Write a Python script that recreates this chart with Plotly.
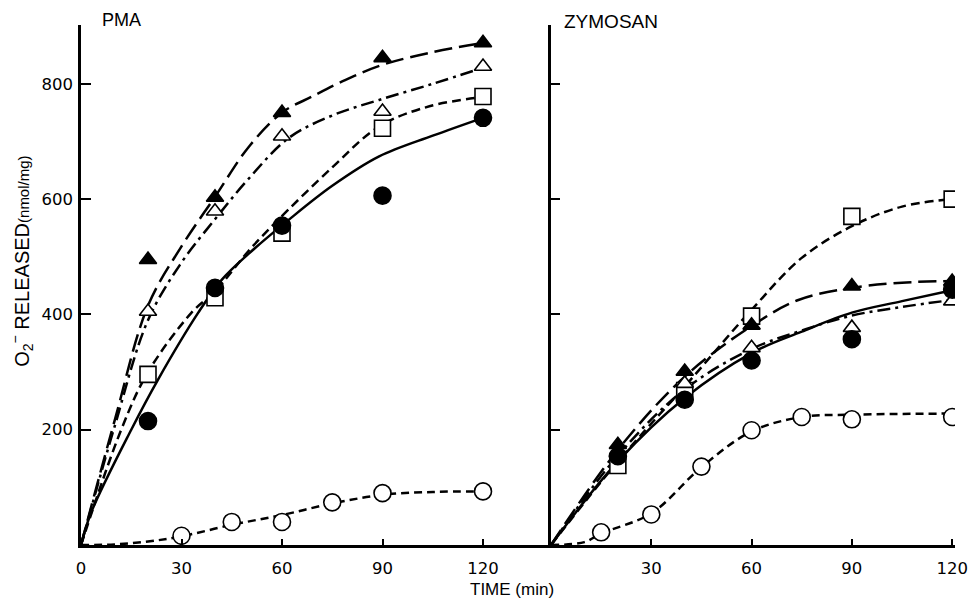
import plotly.graph_objects as go

# ---------------- data ----------------
pma_time = [20, 40, 60, 90, 120]
pma_tri_filled = [495, 603, 750, 845, 871]
pma_tri_open = [405, 579, 709, 752, 830]
pma_sq_open = [296, 429, 541, 723, 778]
pma_circ_filled = [215, 446, 554, 606, 741]
pma_oc_time = [30, 45, 60, 75, 90, 120]
pma_circ_open = [16, 40, 40, 74, 90, 93]

# fitted curves (PMA)
pma_fit_tf_t = [0, 10, 20, 30, 40, 50, 60, 69, 79, 90, 105, 120]
pma_fit_tf_y = [0, 215, 415, 518, 604, 690, 750, 778, 807, 833, 855, 871]
pma_fit_to_t = [0, 10, 20, 30, 40, 50, 62, 75, 89, 105, 120]
pma_fit_to_y = [0, 205, 390, 490, 565, 635, 706, 745, 772, 800, 828]
pma_fit_sq_t = [0, 12, 20, 33, 40, 50, 58, 75, 89, 104, 120]
pma_fit_sq_y = [0, 200, 300, 403, 440, 510, 559, 655, 726, 761, 777]
pma_fit_cf_t = [0, 3, 15, 23, 35, 42, 50, 62, 75, 89, 105, 120]
pma_fit_cf_y = [0, 56, 200, 287, 403, 460, 505, 564, 623, 674, 710, 741]
pma_fit_co_t = [0, 10, 20, 30, 45, 60, 75, 90, 105, 120]
pma_fit_co_y = [0, 1, 6, 15, 35, 52, 72, 87, 92, 93]

zym_time = [20, 40, 60, 90, 120]
zym_sq_open = [138, 268, 397, 570, 600]
zym_tri_filled = [174, 301, 381, 449, 457]
zym_tri_open = [160, 280, 342, 377, 423]
zym_circ_filled = [154, 252, 320, 357, 443]
zym_oc_time = [15, 30, 45, 60, 75, 90, 120]
zym_circ_open = [22, 53, 136, 199, 222, 218, 222]

# fitted curves (ZYMOSAN)
zym_fit_sq_t = [0, 20, 40, 60, 75, 90, 105, 120]
zym_fit_sq_y = [0, 145, 275, 408, 498, 553, 587, 600]
zym_fit_tf_t = [0, 20, 40, 60, 74, 90, 105, 120]
zym_fit_tf_y = [0, 165, 292, 380, 425, 446, 455, 458]
zym_fit_to_t = [0, 20, 40, 60, 75, 90, 105, 120]
zym_fit_to_y = [0, 155, 270, 340, 372, 398, 413, 425]
zym_fit_cf_t = [0, 20, 40, 60, 75, 90, 105, 120]
zym_fit_cf_y = [0, 145, 255, 333, 370, 403, 423, 442]
zym_fit_co_t = [0, 10, 15, 30, 45, 60, 75, 90, 120]
zym_fit_co_y = [0, 5, 20, 55, 135, 197, 222, 226, 228]

x_ticks_left = [0, 30, 60, 90, 120]
x_ticks_right = [30, 60, 90, 120]
y_ticks = [200, 400, 600, 800]

# ---------------- figure ----------------
W, H = 969, 599
ML, MR, MT, MB = 81, 14, 25, 53.5
PW, PH = W - ML - MR, H - MT - MB
split = (551 - ML) / PW

def px(xp):
    return (xp - ML) / PW

def py(yp):
    return (H - MB - yp) / PH

BLACK = "black"
LW = 2.5

styles = {
    "tf": dict(dash="18px,7px", width=LW),
    "to": dict(dash="13px,5px,3px,5px", width=LW),
    "sq": dict(dash="9px,5px", width=LW),
    "cf": dict(dash="solid", width=LW),
    "co": dict(dash="8px,5px", width=LW),
}

fig = go.Figure()

def curve(t, y, key, xa, ya):
    fig.add_trace(go.Scatter(x=t, y=y, mode="lines", xaxis=xa, yaxis=ya,
                             line=dict(color=BLACK, shape="spline", **styles[key]),
                             showlegend=False, hoverinfo="skip"))

def marks(t, y, symbol, filled, xa, ya, size):
    fig.add_trace(go.Scatter(x=t, y=y, mode="markers", xaxis=xa, yaxis=ya,
                             marker=dict(symbol=symbol, size=size,
                                         color=BLACK if filled else "white",
                                         line=dict(color=BLACK, width=1.6)),
                             showlegend=False))

for xa, ya, fits in [
    ("x", "y", [(pma_fit_tf_t, pma_fit_tf_y, "tf"), (pma_fit_to_t, pma_fit_to_y, "to"),
                (pma_fit_sq_t, pma_fit_sq_y, "sq"), (pma_fit_cf_t, pma_fit_cf_y, "cf"),
                (pma_fit_co_t, pma_fit_co_y, "co")]),
    ("x2", "y2", [(zym_fit_sq_t, zym_fit_sq_y, "sq"), (zym_fit_tf_t, zym_fit_tf_y, "tf"),
                  (zym_fit_to_t, zym_fit_to_y, "to"), (zym_fit_cf_t, zym_fit_cf_y, "cf"),
                  (zym_fit_co_t, zym_fit_co_y, "co")]),
]:
    for t, y, k in fits:
        curve(t, y, k, xa, ya)

marks(pma_time, pma_sq_open, "square", False, "x", "y", 16)
marks(pma_time, pma_tri_open, "triangle-up", False, "x", "y", 15)
marks(pma_time, pma_circ_filled, "circle", True, "x", "y", 17)
marks(pma_time, pma_tri_filled, "triangle-up", True, "x", "y", 15)
marks(pma_oc_time, pma_circ_open, "circle", False, "x", "y", 17)

marks(zym_time, zym_sq_open, "square", False, "x2", "y2", 16)
marks(zym_time, zym_tri_open, "triangle-up", False, "x2", "y2", 15)
marks(zym_time, zym_circ_filled, "circle", True, "x2", "y2", 17)
marks(zym_time, zym_tri_filled, "triangle-up", True, "x2", "y2", 15)
marks(zym_oc_time, zym_circ_open, "circle", False, "x2", "y2", 17)

tickfont = dict(family="DejaVu Sans", size=16.5, color=BLACK)
common_axis = dict(showgrid=False, zeroline=False, showline=True, linecolor=BLACK,
                   linewidth=LW, ticks="inside", tickcolor=BLACK, tickwidth=2,
                   tickfont=tickfont, automargin=False)

fig.update_layout(
    width=W, height=H, autosize=False,
    margin=dict(l=ML, r=MR, t=MT, b=MB, pad=0),
    paper_bgcolor="white", plot_bgcolor="white",
    font=dict(family="Liberation Sans, Arial, sans-serif", color=BLACK),
    xaxis=dict(domain=[0, split], range=[0, 140.3], tickvals=x_ticks_left,
               ticklen=6, anchor="y", ticklabelstandoff=6, **common_axis),
    yaxis=dict(domain=[0, 1], range=[0, 902], tickvals=y_ticks, ticklen=10,
               anchor="x", ticklabelstandoff=2, **common_axis),
    xaxis2=dict(domain=[split, 1], range=[0, 120.85], tickvals=x_ticks_right,
                ticklen=6, anchor="y2", ticklabelstandoff=6, **common_axis),
    yaxis2=dict(domain=[0, 1], range=[0, 902], tickvals=y_ticks, ticklen=9,
                anchor="x2", showticklabels=False, **common_axis),
)

fig.add_annotation(text="PMA", x=px(100), y=py(20), xref="paper", yref="paper",
                   xanchor="left", yanchor="middle", showarrow=False,
                   font=dict(size=18))
fig.add_annotation(text="ZYMOSAN", x=px(562), y=py(21), xref="paper", yref="paper",
                   xanchor="left", yanchor="middle", showarrow=False,
                   font=dict(size=19))
fig.add_annotation(text="TIME (min)",
                   x=px(512), y=py(590), xref="paper", yref="paper",
                   xanchor="center", yanchor="middle", showarrow=False,
                   font=dict(size=17))
fig.add_annotation(text="O<sub>2</sub><sup>−</sup> RELEASED<span style='font-size:15px'>(nmol/mg)</span>",
                   x=px(22), y=py(262), xref="paper", yref="paper",
                   xanchor="center", yanchor="middle", showarrow=False,
                   textangle=-90, font=dict(size=20))

fig.write_html("out.html", config={"displayModeBar": False, "responsive": False},
               post_script="document.body.style.margin='0';document.body.style.overflow='hidden';")
